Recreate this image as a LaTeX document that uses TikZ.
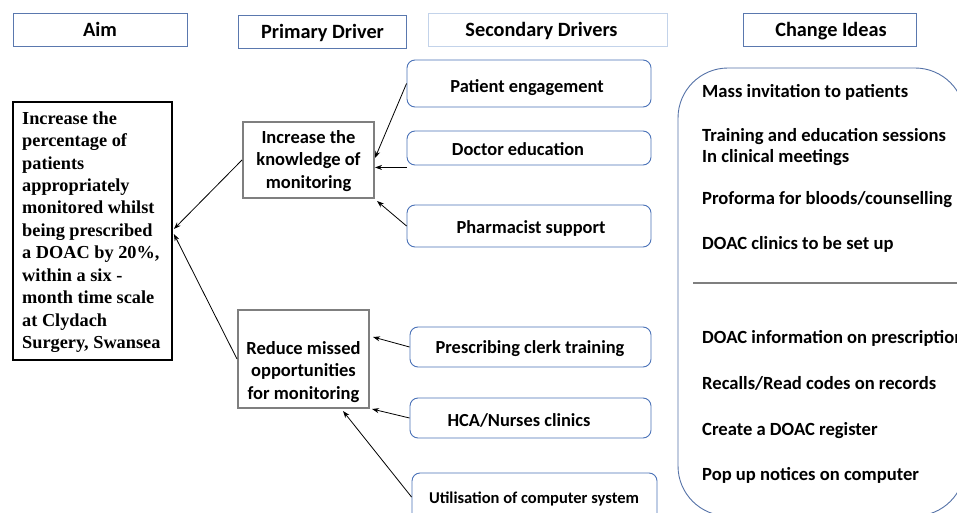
\documentclass[tikz,border=0pt]{standalone}
\usepackage{fontspec}
\setmainfont{Carlito}
\newfontfamily\serifaim{Liberation Serif}
\usetikzlibrary{arrows.meta,calc}
\definecolor{hdrblue}{HTML}{5A78AE}
\definecolor{lightblue}{HTML}{C3D3EA}
\definecolor{secblue}{HTML}{4A72B8}
\definecolor{primgray}{HTML}{7F7F7F}
\definecolor{cibox}{HTML}{5673A8}
\begin{document}
\begin{tikzpicture}[x=1pt,y=-1pt,
 hdr/.style={draw=hdrblue, line width=0.9pt, minimum height=33pt, inner sep=0pt, font=\fontsize{20.3}{24}\selectfont\bfseries},
 hdrtext/.style={font=\fontsize{20.3}{24}\selectfont\bfseries, inner sep=0pt, anchor=base},
 aimbox/.style={draw=black, line width=1.8pt, inner sep=0pt},
 prim/.style={draw=primgray, line width=2pt, inner sep=0pt},
 sec/.style={draw=secblue, line width=0.9pt, rounded corners=8pt, inner sep=0pt},
 sectext/.style={font=\fontsize{18.4}{22}\selectfont\bfseries, inner sep=0pt, anchor=base},
 primtext/.style={font=\fontsize{18.5}{22.5}\selectfont\bfseries, align=center, inner sep=0pt},
 idea/.style={font=\fontsize{18.6}{21}\selectfont\bfseries, inner sep=0pt, anchor=base west},
 arr/.style={-{Stealth[length=7pt,width=5pt]}, line width=0.8pt, black},
]
\useasboundingbox (0,0) rectangle (957,513);
\clip (0,0) rectangle (957,513);
\fill[white] (0,0) rectangle (957,513);

% headers
\node[hdr, minimum width=174pt] (haim) at (100,29.5) {};
\node[hdrtext] (haimt) at (100,37) {Aim};
\node[hdr, minimum width=168pt] (hprim) at (322,31.5) {};
\node[hdrtext] (hprimt) at (322.5,39) {Primary Driver};
\node[hdr, draw=lightblue, minimum width=239pt] (hsec) at (547.5,29.5) {};
\node[hdrtext] (hsect) at (541.5,37) {Secondary Drivers};
\node[hdr, minimum width=173pt] (hci) at (829.5,29.5) {};
\node[hdrtext] (hcit) at (831,37) {Change Ideas};

% aim
\node[aimbox, minimum width=159pt, minimum height=258pt] (aim) at (92.5,231) {};
\node[anchor=north west, inner sep=0pt, align=left, font=\serifaim\bfseries\fontsize{18.3}{22.4}\selectfont] (aimtext) at (22,111.5)
 {Increase the\\percentage of\\patients\\appropriately\\monitored whilst\\being prescribed\\a DOAC by 20\%,\\within a six -\\month time scale\\at Clydach\\Surgery, Swansea};

% primary drivers
\node[prim, minimum width=131pt, minimum height=76pt] (k) at (308.5,160) {};
\node[primtext] (kt) at (308.5,161) {Increase the\\knowledge of\\monitoring};
\node[prim, minimum width=131pt, minimum height=98pt] (r) at (303.5,359) {};
\node[primtext] (rt) at (303.5,372) {Reduce missed\\opportunities\\for monitoring};

% secondary drivers
\node[sec, minimum width=244pt, minimum height=47pt] (pe) at (529,83.5) {};
\node[sectext] (pet) at (527,93) {Patient engagement};
\node[sec, minimum width=244pt, minimum height=34pt] (de) at (529,148) {};
\node[sectext] (det) at (518,156) {Doctor education};
\node[sec, minimum width=244pt, minimum height=42pt] (ps) at (529,226) {};
\node[sectext] (pst) at (531,233) {Pharmacist support};
\node[sec, minimum width=241pt, minimum height=40pt] (pc) at (530.5,347) {};
\node[sectext] (pct) at (530,353) {Prescribing clerk training};
\node[sec, minimum width=241pt, minimum height=40pt] (hc) at (530.5,418) {};
\node[sectext] (hct) at (519,426) {HCA/Nurses clinics};
\node[sec, minimum width=245pt, minimum height=48pt] (uc) at (534.5,497) {};
\node[sectext, font=\fontsize{16.5}{19}\selectfont\bfseries] (uct) at (534,503.5) {Utilisation of computer system};

% change ideas
\node[draw=cibox, line width=0.9pt, rounded corners=50pt, minimum width=287pt, minimum height=448pt, inner sep=0pt] (ci) at (821.5,292) {};
\coordinate (dl) at (693,283);
\coordinate (dr) at (957,283);
\draw[primgray, line width=1.5pt] (dl) -- (dr);
\node[idea] (i1) at (702,98) {Mass invitation to patients};
\node[idea] (i2) at (702,142) {Training and education sessions};
\node[idea] (i3) at (702,163) {In clinical meetings};
\node[idea] (i4) at (702,204) {Proforma for bloods/counselling};
\node[idea] (i5) at (702,249) {DOAC clinics to be set up};
\node[idea] (i6) at (702,343) {DOAC information on prescription};
\node[idea] (i7) at (702,389) {Recalls/Read codes on records};
\node[idea] (i8) at (702,435) {Create a DOAC register};
\node[idea] (i9) at (702,480) {Pop up notices on computer};

% arrows
\draw[arr] (pe.west) -- ([yshift=2pt]k.east);
\draw[arr] ([yshift=-2pt]de.south west) -- ([yshift=-2pt]de.south west -| k.east);
\draw[arr] (ps.west) -- ([xshift=2pt,yshift=-2pt]k.south east);
\draw[arr] (pc.west) -- ([xshift=3pt,yshift=22pt]r.east);
\draw[arr] (hc.west) -- ([xshift=2pt]r.south east);
\draw[arr] (uc.west) -- ([xshift=-27pt,yshift=-2pt]r.south east);
\draw[arr] (k.west) -- ([xshift=1pt,yshift=2pt]aim.east);
\draw[arr] (r.west) -- ([xshift=1pt,yshift=-3pt]aim.east);
\end{tikzpicture}
\end{document}
